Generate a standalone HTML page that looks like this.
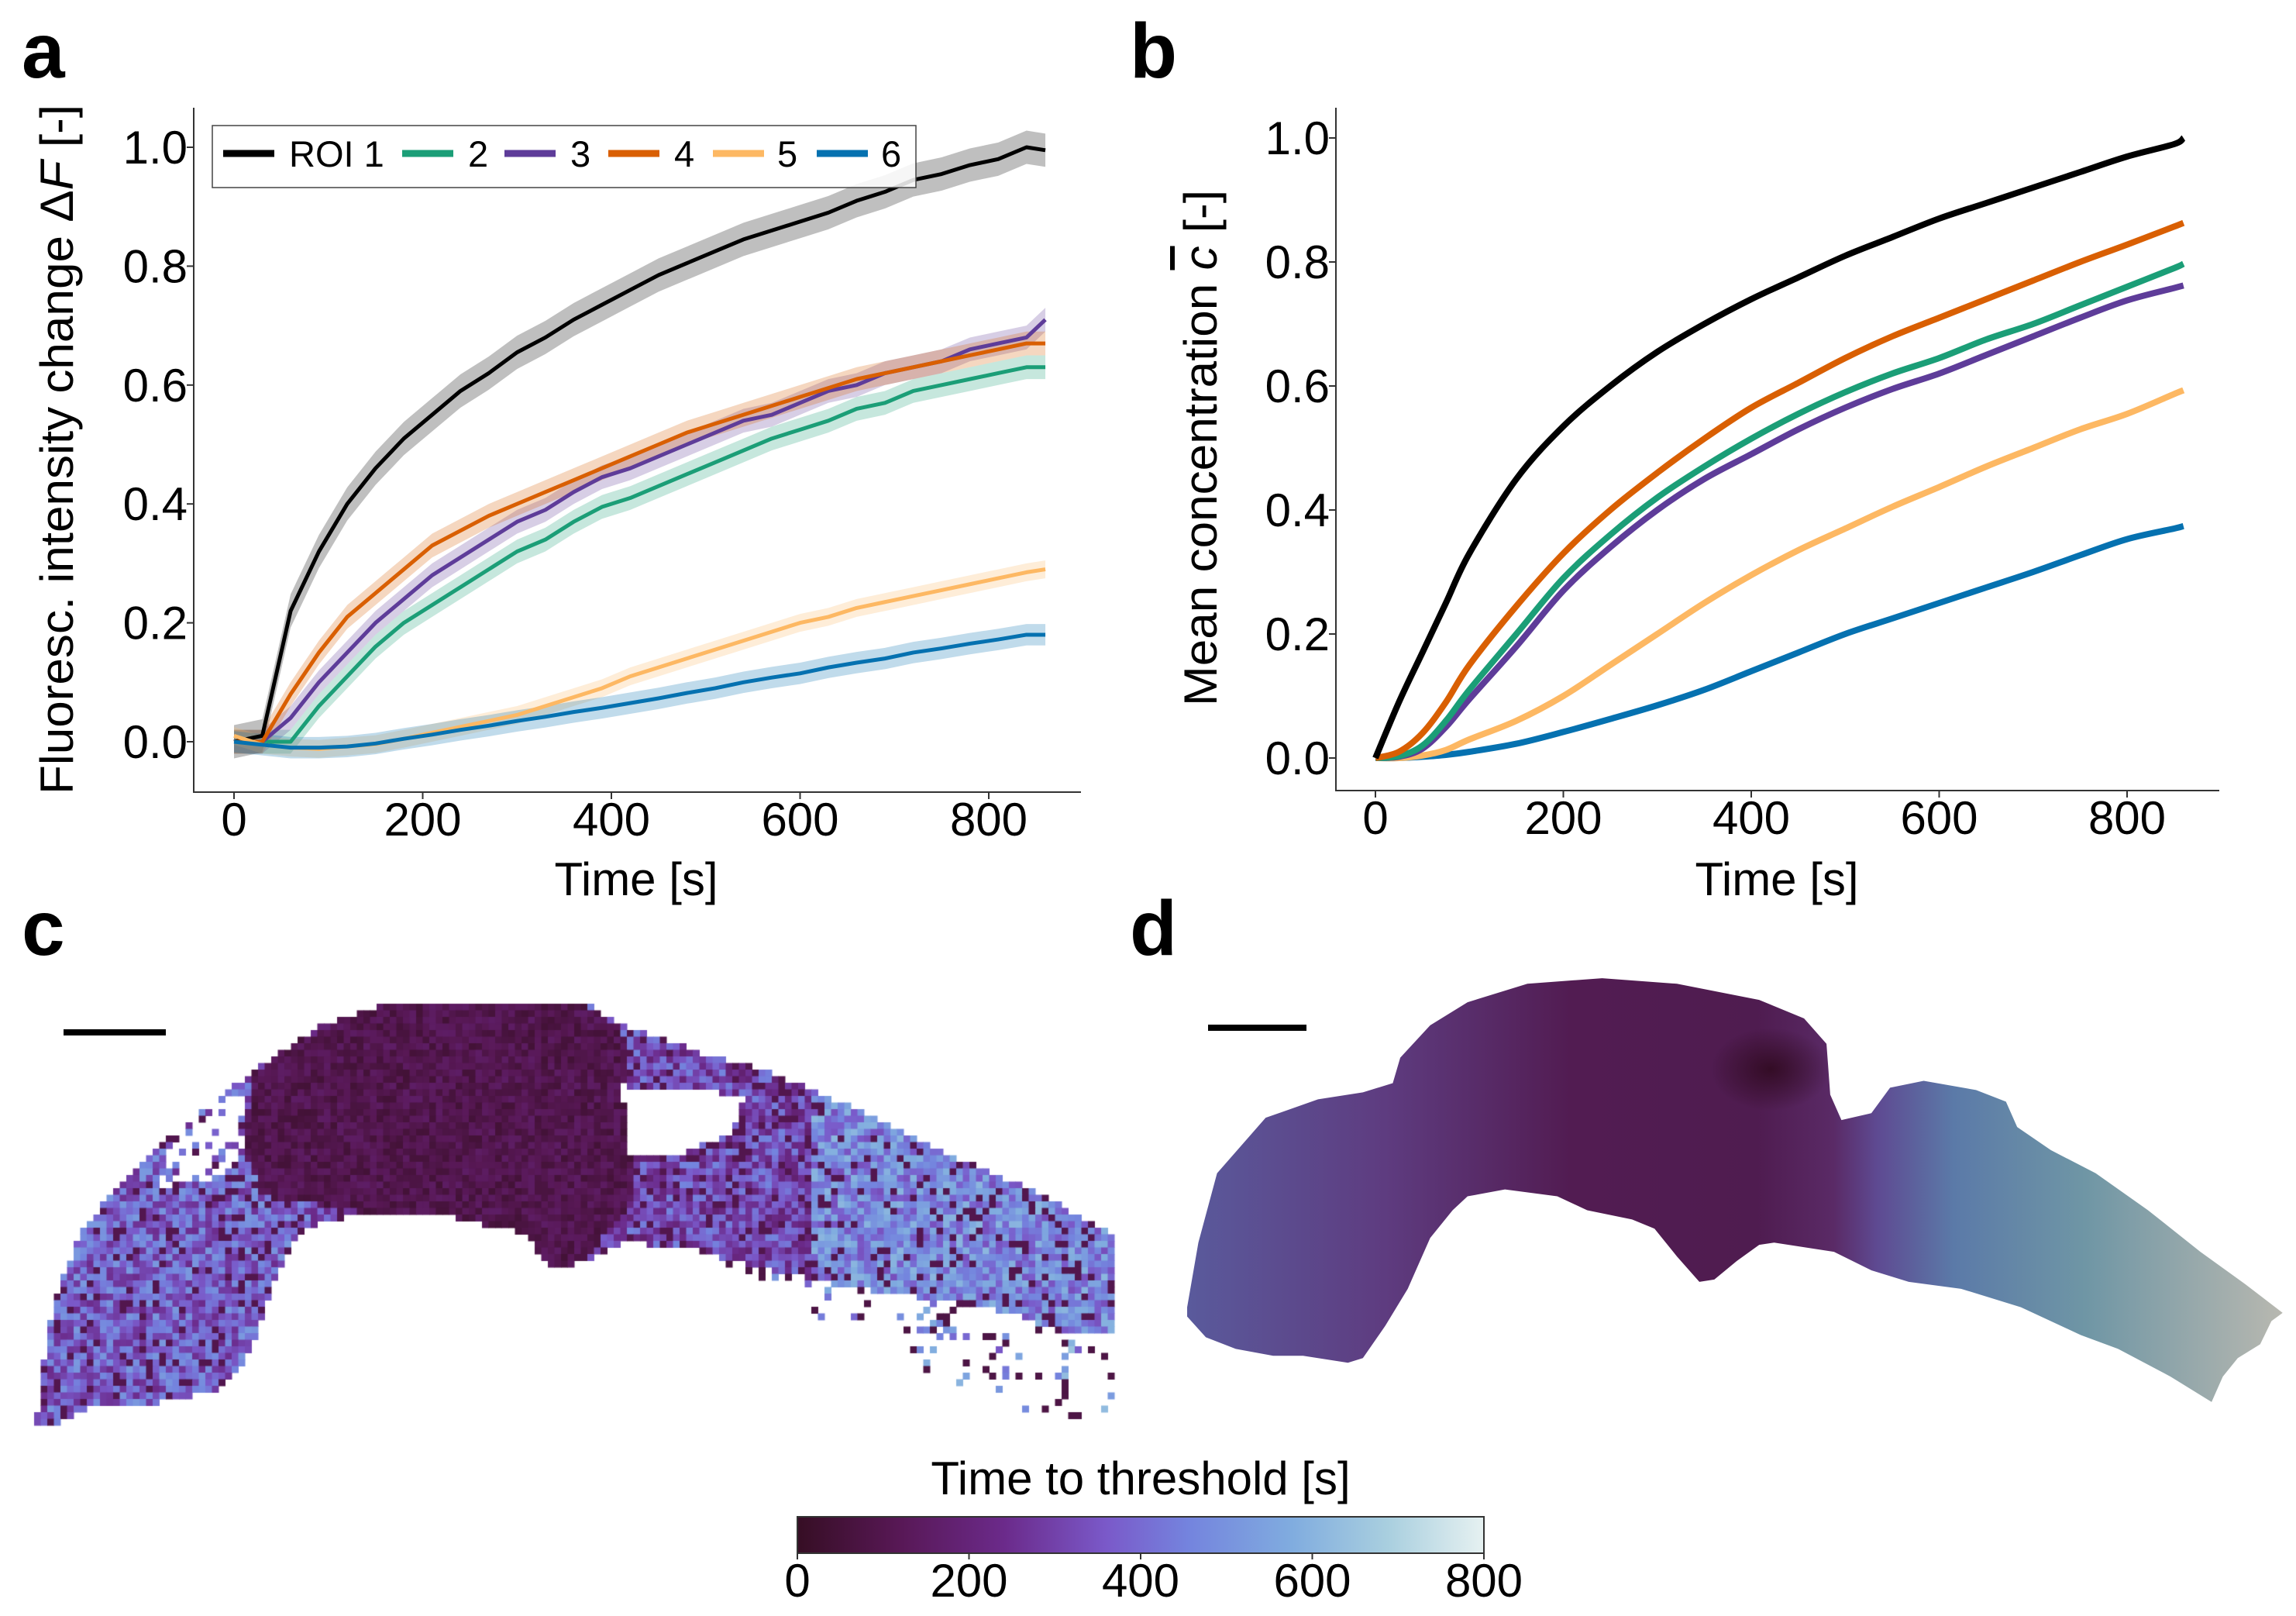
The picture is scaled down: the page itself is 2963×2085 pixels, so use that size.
<!DOCTYPE html>
<html><head><meta charset="utf-8">
<style>
html,body{margin:0;padding:0;background:#fff;}
#root{position:relative;width:2963px;height:2085px;overflow:hidden;font-family:"Liberation Sans",Arial,sans-serif;}
svg text{font-family:"Liberation Sans",Arial,sans-serif;}
canvas{position:absolute;left:0;top:0;}
</style></head>
<body>
<div id="root">
<canvas id="heat" width="2963" height="2085"></canvas>
<svg id="svg" width="2963" height="2085" style="position:absolute;left:0;top:0">
<defs>
<linearGradient id="cmap" x1="0" x2="1" y1="0" y2="0">
<stop offset="0" stop-color="#360e24"/><stop offset="0.15" stop-color="#581856"/><stop offset="0.3" stop-color="#6b2a8a"/><stop offset="0.45" stop-color="#7a59c9"/><stop offset="0.57" stop-color="#7484de"/><stop offset="0.72" stop-color="#80acdf"/><stop offset="0.86" stop-color="#a9cfdf"/><stop offset="1" stop-color="#e6f1f1"/>
</linearGradient>
<linearGradient id="dgrad" gradientUnits="userSpaceOnUse" x1="85" y1="0" x2="1550" y2="0">
<stop offset="0" stop-color="#5a5a9c"/><stop offset="0.18" stop-color="#5e3c80"/><stop offset="0.35" stop-color="#521c52"/><stop offset="0.52" stop-color="#4f1c50"/><stop offset="0.59" stop-color="#5a2a66"/><stop offset="0.63" stop-color="#5e4a92"/><stop offset="0.7" stop-color="#5b7aa8"/><stop offset="0.82" stop-color="#6f96a5"/><stop offset="1" stop-color="#b8b8b0"/>
</linearGradient>
<radialGradient id="dspot" cx="0.5" cy="0.5" r="0.5">
<stop offset="0" stop-color="#300a20" stop-opacity="0.9"/><stop offset="1" stop-color="#300a20" stop-opacity="0"/>
</radialGradient>
</defs>
<text x="28" y="100" font-size="100" font-weight="bold">a</text>
<text x="1458" y="100" font-size="100" font-weight="bold">b</text>
<text x="28" y="1232" font-size="100" font-weight="bold">c</text>
<text x="1458" y="1232" font-size="100" font-weight="bold">d</text>
<g id="pa"></g>
<g id="pb"></g>
<rect x="82" y="1328" width="132" height="8" fill="#000"/>
<rect x="1559" y="1322" width="127" height="8" fill="#000"/>
<g transform="translate(1450,1150) scale(0.965,0.5963)">
<path d="M85,900 L100,760 L125,610 L190,490 L260,450 L320,435 L360,415 L370,360 L410,290 L460,240 L540,200 L640,188 L740,200 L850,235 L910,275 L940,330 L945,440 L960,495 L1000,480 L1025,425 L1070,410 L1140,430 L1180,455 L1195,510 L1240,560 L1300,610 L1370,690 L1440,780 L1500,850 L1550,912 L1535,930 L1520,980 L1490,1010 L1470,1050 L1455,1105 L1400,1050 L1330,990 L1280,960 L1200,900 L1120,860 L1050,845 L1000,820 L950,780 L870,760 L850,765 L820,800 L790,840 L770,845 L740,790 L710,730 L680,710 L620,690 L580,660 L510,645 L460,660 L440,690 L410,750 L380,860 L350,940 L320,1010 L300,1020 L240,1005 L200,1005 L150,990 L110,965 L85,920 Z" fill="url(#dgrad)"/>
<ellipse cx="865" cy="385" rx="80" ry="90" fill="url(#dspot)"/>
</g>
<g>
<text x="1472" y="1928" font-size="60" text-anchor="middle">Time to threshold [s]</text>
<rect x="1029" y="1957" width="886" height="47" fill="url(#cmap)" stroke="#333" stroke-width="2"/>
<g id="cbticks"></g>
</g>
</svg>
</div>
<script>
// ---------- Panel a data ----------
const timesA = [0,30,60,90,120,150,180,210,240,270,300,330,360,390,420,450,480,510,540,570,600,630,660,690,720,750,780,810,840,860];
const roi1A = [0,0.01,0.22,0.32,0.40,0.46,0.51,0.55,0.59,0.62,0.655,0.68,0.71,0.735,0.76,0.785,0.805,0.825,0.845,0.86,0.875,0.89,0.91,0.925,0.945,0.955,0.97,0.98,1.0,0.995];
const roi2A = [0,0,0.0,0.06,0.11,0.16,0.20,0.23,0.26,0.29,0.32,0.34,0.37,0.395,0.41,0.43,0.45,0.47,0.49,0.51,0.525,0.54,0.56,0.57,0.59,0.60,0.61,0.62,0.63,0.63];
const roi3A = [0,0,0.04,0.10,0.15,0.20,0.24,0.28,0.31,0.34,0.37,0.39,0.42,0.445,0.46,0.48,0.50,0.52,0.54,0.55,0.57,0.59,0.60,0.62,0.63,0.64,0.66,0.67,0.68,0.71];
const roi4A = [0,0.0,0.08,0.15,0.21,0.25,0.29,0.33,0.355,0.38,0.40,0.42,0.44,0.46,0.48,0.50,0.52,0.535,0.55,0.565,0.58,0.595,0.61,0.62,0.63,0.64,0.65,0.66,0.67,0.67];
const roi5A = [0.01,-0.005,-0.01,-0.012,-0.008,-0.004,0.005,0.015,0.025,0.035,0.045,0.06,0.075,0.09,0.11,0.125,0.14,0.155,0.17,0.185,0.20,0.21,0.225,0.235,0.245,0.255,0.265,0.275,0.285,0.29];
const roi6A = [0,-0.005,-0.01,-0.01,-0.008,-0.003,0.005,0.012,0.02,0.027,0.035,0.042,0.05,0.057,0.065,0.073,0.082,0.09,0.10,0.108,0.115,0.125,0.133,0.14,0.15,0.157,0.165,0.172,0.18,0.18];
const bandA = [0.028,0.02,0.02,0.02,0.015,0.018];
const yTicksA = [0.0,0.2,0.4,0.6,0.8,1.0];
const xTicks = [0,200,400,600,800];
const legendLabels = ["ROI 1","2","3","4","5","6"];
// ---------- Panel b data ----------
const timesB = [0,25,50,75,100,150,200,250,300,350,400,450,500,550,600,650,700,750,800,850,860];
const roi1B = [0,0.09,0.17,0.25,0.33,0.45,0.535,0.60,0.655,0.70,0.74,0.775,0.81,0.84,0.87,0.895,0.92,0.945,0.97,0.99,1.0];
const roi2B = [0,0.003,0.02,0.06,0.11,0.20,0.29,0.36,0.42,0.47,0.515,0.555,0.59,0.62,0.645,0.675,0.70,0.73,0.76,0.79,0.797];
const roi3B = [0,0.002,0.015,0.05,0.095,0.18,0.27,0.34,0.40,0.45,0.49,0.53,0.565,0.595,0.62,0.65,0.68,0.71,0.738,0.758,0.762];
const roi4B = [0,0.01,0.04,0.09,0.15,0.245,0.33,0.40,0.46,0.515,0.565,0.605,0.645,0.68,0.71,0.74,0.77,0.80,0.828,0.857,0.863];
const roi5B = [0,0,0.004,0.013,0.03,0.06,0.10,0.15,0.20,0.25,0.295,0.335,0.37,0.405,0.437,0.47,0.50,0.53,0.555,0.587,0.593];
const roi6B = [0,0,0.002,0.005,0.01,0.023,0.042,0.063,0.085,0.11,0.14,0.17,0.20,0.225,0.25,0.275,0.30,0.327,0.353,0.37,0.374];
const yTicksB = [0.0,0.2,0.4,0.6,0.8,1.0];
// ---------- Colorbar ----------
const cbTicks = [0,200,400,600,800];

const colors = ["#000000","#1b9e77","#5e3c99","#d95f02","#fdb863","#0571b0"];
const NS = "http://www.w3.org/2000/svg";
function mk(tag, attrs, parent){const e=document.createElementNS(NS,tag);for(const k in attrs)e.setAttribute(k,attrs[k]);parent.appendChild(e);return e;}
function smooth(pts){
  let d='M'+pts[0][0]+','+pts[0][1];
  for(let i=0;i<pts.length-1;i++){
    const p0=pts[Math.max(0,i-1)],p1=pts[i],p2=pts[i+1],p3=pts[Math.min(pts.length-1,i+2)];
    const c1=[p1[0]+(p2[0]-p0[0])/6,p1[1]+(p2[1]-p0[1])/6];
    const c2=[p2[0]-(p3[0]-p1[0])/6,p2[1]-(p3[1]-p1[1])/6];
    d+=` C${c1[0]},${c1[1]} ${c2[0]},${c2[1]} ${p2[0]},${p2[1]}`;
  }
  return d;
}

function drawAxes(g, L, R, T, B, xs, ys, yTicks, yFmtX, xLblY, xTitleX, yTitle, yTitleX, yTitleY, yTitleLen){
  const ax=mk('path',{d:`M${L},${T} L${L},${B} L${R},${B}`,fill:'none',stroke:'#333','stroke-width':2},g);
  
  
  xTicks.forEach(v=>{
    mk('line',{x1:xs(v),x2:xs(v),y1:B,y2:B+9,stroke:'#333','stroke-width':2},g);
    const t=mk('text',{x:xs(v),y:xLblY,'font-size':60,'text-anchor':'middle'},g);t.textContent=v;
    
    
  });
  yTicks.forEach(v=>{
    mk('line',{x1:L-9,x2:L,y1:ys(v),y2:ys(v),stroke:'#333','stroke-width':2},g);
    const t=mk('text',{x:yFmtX,y:ys(v)+21,'font-size':60,'text-anchor':'end'},g);t.textContent=v.toFixed(1);
    
    
  });
  const xt=mk('text',{x:xTitleX,y:1155,'font-size':60,'text-anchor':'middle'},g);xt.textContent='Time [s]';
  
  
  const yt=mk('text',{x:0,y:0,'font-size':60,'text-anchor':'middle',transform:`translate(${yTitleX},${yTitleY}) rotate(-90)`,textLength:yTitleLen,lengthAdjust:'spacingAndGlyphs'},g);
  yt.innerHTML=yTitle;
  
  
}

// Panel a
(function(){
  const g=document.getElementById('pa');
  const L=250,R=1395,T=139,B=1022;
  const xs=v=>302+(v/800)*(1276-302);
  const ys=v=>957-v*(957-190);
  drawAxes(g,L,R,T,B,xs,ys,yTicksA,242,1078,821,'Fluoresc. intensity change Δ<tspan font-style="italic">F</tspan> [-]',94,580,890);
  const series=[roi1A,roi2A,roi3A,roi4A,roi5A,roi6A];
  series.forEach((s,i)=>{
    let up='',dn='';
    s.forEach((v,k)=>{up+=(k?'L':'M')+xs(timesA[k])+','+ys(v+bandA[i])+' ';});
    for(let k=s.length-1;k>=0;k--){dn+='L'+xs(timesA[k])+','+ys(s[k]-bandA[i])+' ';}
    const b=mk('path',{d:up+dn+'Z',fill:colors[i],'fill-opacity':0.25,stroke:'none'},g);
    
    
  });
  series.forEach((s,i)=>{
    const pts=s.map((v,k)=>xs(timesA[k])+','+ys(v)).join(' ');
    const p=mk('polyline',{points:pts,fill:'none',stroke:colors[i],'stroke-width':5,'stroke-linejoin':'round'},g);
    
    
  });
  const lg=mk('g',{},g);
  
  
  mk('rect',{x:274,y:162,width:908,height:80,fill:'#fff','fill-opacity':0.85,stroke:'#444','stroke-width':1.5},lg);
  const lx=[288,519,651,785,920,1054], tx=[373,604,736,870,1003,1137];
  legendLabels.forEach((lab,i)=>{
    mk('line',{x1:lx[i],x2:lx[i]+66,y1:198,y2:198,stroke:colors[i],'stroke-width':9},lg);
    const t=mk('text',{x:tx[i],y:215,'font-size':47},lg);t.textContent=lab;
    
    
  });
})();

// Panel b
(function(){
  const g=document.getElementById('pb');
  const L=1724,R=2864,T=139,B=1020;
  const xs=v=>1775+(v/800)*(2745-1775);
  const ys=v=>978-v*(978-178);
  drawAxes(g,L,R,T,B,xs,ys,yTicksB,1716,1076,2293,'Mean concentration <tspan font-style="italic" text-decoration="overline">c</tspan> [-]',1570,578,666);
  const series=[roi1B,roi2B,roi3B,roi4B,roi5B,roi6B];
  [5,4,2,1,3,0].forEach(i=>{
    const s=series[i];
    const pts=s.map((v,k)=>[xs(timesB[k]),ys(v)]);
    const p=mk('path',{d:smooth(pts),fill:'none',stroke:colors[i],'stroke-width':8,'stroke-linejoin':'round'},g);
    
    
  });
})();

// colorbar ticks
(function(){
  const g=document.getElementById('cbticks');
  const cx=v=>1029+(v/800)*886;
  cbTicks.forEach(v=>{
    mk('line',{x1:cx(v),x2:cx(v),y1:2004,y2:2012,stroke:'#333','stroke-width':2},g);
    const t=mk('text',{x:cx(v),y:2060,'font-size':60,'text-anchor':'middle'},g);t.textContent=v;
    
    
  });
})();

// Panel c heatmap texture
(function(){
  const cv=document.getElementById('heat');const ctx=cv.getContext('2d');
  const stops=[[0,[54,14,36]],[0.15,[88,24,86]],[0.3,[107,42,138]],[0.45,[122,89,201]],[0.57,[116,132,222]],[0.72,[128,172,223]],[0.86,[169,207,223]],[1,[230,241,241]]];
  function cm(t){t=Math.max(0,Math.min(1,t));for(let i=1;i<stops.length;i++){if(t<=stops[i][0]){const a=stops[i-1],b=stops[i];const f=(t-a[0])/(b[0]-a[0]);return 'rgb('+a[1].map((c,j)=>Math.round(c+(b[1][j]-c)*f)).join(',')+')';}}return 'rgb(230,241,241)';}
  const mp=p=>[p[0]*0.944,p[1]*0.5963+1150];
  const body=[[50,1150],[55,1060],[75,880],[110,740],[170,620],[240,520],[330,410],[380,350],[440,290],[500,255],[530,243],[800,243],[850,290],[960,350],[1040,385],[1110,430],[1200,490],[1300,570],[1400,640],[1450,680],[1520,740],[1520,960],[1460,960],[1380,910],[1260,880],[1140,850],[1000,800],[940,770],[850,760],[800,800],[770,815],[740,800],[720,740],[660,720],[600,700],[520,700],[440,710],[400,760],[370,860],[350,960],[330,1030],[300,1080],[200,1110],[120,1120],[80,1150]].map(mp);
  const blob=[[340,400],[400,330],[480,270],[530,243],[800,243],[850,300],[860,420],[855,560],[870,600],[860,680],[820,760],[800,800],[770,815],[740,800],[720,740],[660,720],[600,700],[520,700],[440,680],[360,660],[330,560],[340,470]].map(mp);
  const hole=[[850,420],[1020,440],[1000,520],[940,565],[860,570]].map(mp);
  const hole2=[[230,520],[330,430],[340,560],[300,620],[220,640]].map(mp);
  const sparse=[[980,800],[1520,960],[1520,1160],[1400,1160],[1150,950]].map(mp);
  function inside(poly,x,y){let c=false;for(let i=0,j=poly.length-1;i<poly.length;j=i++){const a=poly[i],b=poly[j];if(((a[1]>y)!=(b[1]>y))&&(x<(b[0]-a[0])*(y-a[1])/(b[1]-a[1])+a[0]))c=!c;}return c;}
  let seed=12345;function rnd(){seed|=0;seed=seed+0x6D2B79F5|0;let t=Math.imul(seed^seed>>>15,1|seed);t=t+Math.imul(t^t>>>7,61|t)^t;return((t^t>>>14)>>>0)/4294967296;}
  const cs=8.5;
  for(let y=1295;y<1845;y+=cs){for(let x=44;x<1438;x+=cs){
    const px=x+cs/2,py=y+cs/2;
    let v=null;
    if(inside(body,px,py)&&!inside(hole,px,py)){
      if(inside(hole2,px,py)&&rnd()<0.75)continue;
      if(inside(blob,px,py)){v=100+(rnd()-0.5)*110;}
      else{const base=px>1050?470:(px<400?380:320);v=rnd()<0.14?100:base+(rnd()-0.5)*280;}
    } else if(inside(sparse,px,py)&&rnd()<0.13){v=rnd()<0.5?80:350+rnd()*300;}
    if(v===null)continue;
    ctx.fillStyle=cm(v/800);ctx.fillRect(x,y,cs+0.5,cs+0.5);
  }}
})();
</script>
</body></html>
